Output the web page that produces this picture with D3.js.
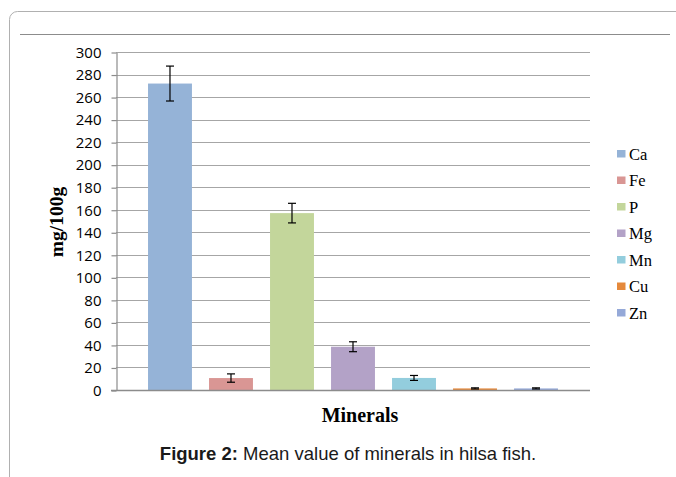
<!DOCTYPE html>
<html>
<head>
<meta charset="utf-8">
<script src="https://cdn.jsdelivr.net/npm/d3@7"></script>
<style>
  body { margin: 0; background: #fff; }
  svg { display: block; }
</style>
</head>
<body>
<script>
// mineral means and error (mg/100g)
var minerals = ["Ca", "Fe", "P", "Mg", "Mn", "Cu", "Zn"];
var means = [272, 10.6, 157, 38.4, 10.7, 1.4, 1.4];
var errors = [15.5, 3.7, 8.7, 4.4, 2.2, 0.5, 0.5];
var colors = ["#95b3d7", "#d99694", "#c3d69b", "#b3a2c7", "#93cddd", "#e5893b", "#95a9d8"];
var yTicks = d3.range(0, 301, 20);

var W = 676, H = 477;
var plotLeft = 116, plotRight = 590, plotTop = 52, plotBottom = 390;

var svg = d3.select("body").append("svg")
  .attr("width", W).attr("height", H);

// outer frame (rounded, runs off the right and bottom edges)
svg.append("rect")
  .attr("x", 9.5).attr("y", 11.5)
  .attr("width", 720).attr("height", 520)
  .attr("rx", 8)
  .attr("fill", "none").attr("stroke", "#b0b0b0").attr("stroke-width", 1);

svg.append("line")
  .attr("x1", 20).attr("x2", 670).attr("y1", 34.5).attr("y2", 34.5)
  .attr("stroke", "#8c8c8c").attr("stroke-width", 1);

var x = d3.scaleBand()
  .domain(minerals)
  .range([plotLeft, plotRight])
  .paddingInner(0.28)
  .paddingOuter(0.525);

var y = d3.scaleLinear()
  .domain([0, 300])
  .range([plotBottom, plotTop]);

// gridlines
svg.append("g").selectAll("line")
  .data(yTicks.filter(function (d) { return d > 0; }))
  .enter().append("line")
  .attr("x1", plotLeft).attr("x2", plotRight)
  .attr("y1", function (d) { return Math.round(y(d)) + 0.5; })
  .attr("y2", function (d) { return Math.round(y(d)) + 0.5; })
  .attr("stroke", "#a6a6a6").attr("stroke-width", 1.2);

// y axis
var yAxis = d3.axisLeft(y).tickValues(yTicks).tickSize(5).tickSizeOuter(0).tickPadding(10);
var ya = svg.append("g")
  .attr("transform", "translate(" + (plotLeft + 0.5) + ",0.5)")
  .call(yAxis);
ya.select(".domain").attr("stroke", "#8c8c8c").attr("stroke-width", 1.2);
ya.selectAll(".tick line").attr("stroke", "#8c8c8c").attr("stroke-width", 1.2);
ya.selectAll("text")
  .attr("font-family", "'Open Sans', sans-serif")
  .attr("font-size", 15).attr("fill", "#000");

// bars
svg.append("g").selectAll("rect")
  .data(minerals)
  .enter().append("rect")
  .attr("x", function (d) { return x(d); })
  .attr("width", x.bandwidth())
  .attr("y", function (d, i) { return y(means[i]); })
  .attr("height", function (d, i) { return y(0) - y(means[i]); })
  .attr("fill", function (d, i) { return colors[i]; });

// x axis line
svg.append("line")
  .attr("x1", plotLeft - 5).attr("x2", plotRight)
  .attr("y1", plotBottom + 0.5).attr("y2", plotBottom + 0.5)
  .attr("stroke", "#8c8c8c").attr("stroke-width", 1.5);

// error bars
var eb = svg.append("g").attr("stroke", "#000").attr("stroke-width", 1.2);
minerals.forEach(function (d, i) {
  var cx = x(d) + x.bandwidth() / 2;
  var y1 = y(means[i] + errors[i]), y2 = y(means[i] - errors[i]);
  eb.append("line").attr("x1", cx).attr("x2", cx).attr("y1", y1).attr("y2", y2);
  eb.append("line").attr("x1", cx - 4).attr("x2", cx + 4).attr("y1", y1).attr("y2", y1);
  eb.append("line").attr("x1", cx - 4).attr("x2", cx + 4).attr("y1", y2).attr("y2", y2);
});

// legend
var lg = svg.append("g").selectAll("g")
  .data(minerals)
  .enter().append("g")
  .attr("transform", function (d, i) { return "translate(617," + (154 + i * 26.5) + ")"; });
lg.append("rect")
  .attr("x", 0).attr("y", -4).attr("width", 8.5).attr("height", 7.5)
  .attr("fill", function (d, i) { return colors[i]; });
lg.append("text")
  .attr("x", 12).attr("y", 5.5)
  .attr("font-family", "'Liberation Serif', 'Times New Roman', serif")
  .attr("font-size", 16.5)
  .text(function (d) { return d; });

// axis titles
svg.append("text")
  .attr("transform", "translate(63,222) rotate(-90)")
  .attr("text-anchor", "middle")
  .attr("font-family", "'Liberation Serif', 'Times New Roman', serif")
  .attr("font-weight", "bold").attr("font-size", 19.5)
  .text("mg/100g");

svg.append("text")
  .attr("x", 360).attr("y", 421.5)
  .attr("text-anchor", "middle")
  .attr("font-family", "'Liberation Serif', 'Times New Roman', serif")
  .attr("font-weight", "bold").attr("font-size", 20)
  .text("Minerals");

// caption
var cap = svg.append("text")
  .attr("x", 348).attr("y", 460)
  .attr("text-anchor", "middle")
  .attr("font-family", "'Liberation Sans', Arial, sans-serif")
  .attr("font-size", 18.5).attr("fill", "#1a1a1a");
cap.append("tspan").attr("font-weight", "bold").text("Figure 2:");
cap.append("tspan").text(" Mean value of minerals in hilsa fish.");
</script>
</body>
</html>
